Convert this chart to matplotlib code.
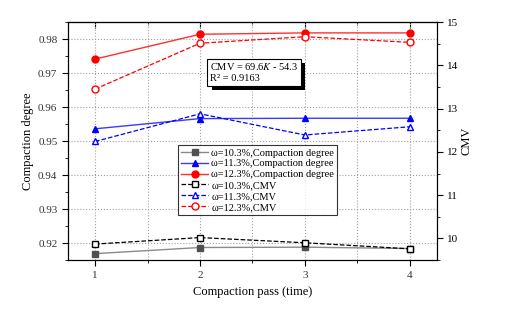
import matplotlib
matplotlib.use("Agg")
import matplotlib.pyplot as plt
from matplotlib.ticker import MultipleLocator, FormatStrFormatter
import matplotlib.patheffects as pe

plt.rcParams['font.family'] = ['Liberation Serif', 'DejaVu Serif']
plt.rcParams['mathtext.fontset'] = 'stix'

# 数据
passes = [1, 2, 3, 4]
cd_103 = [0.9169, 0.9187, 0.9188, 0.9184]
cd_113 = [0.9536, 0.9566, 0.9567, 0.9567]
cd_123 = [0.9741, 0.9814, 0.9818, 0.9818]
cmv_103 = [9.87, 10.02, 9.90, 9.76]
cmv_113 = [12.24, 12.88, 12.39, 12.58]
cmv_123 = [13.45, 14.51, 14.66, 14.53]

fig = plt.figure(figsize=(5.3, 3.1), dpi=100)
ax = fig.add_axes([0.128, 0.161, 0.6965, 0.768])
ax2 = ax.twinx()

# 压实度（左轴）
h1, = ax.plot(passes, cd_103, '-', color='#8a8a8a', lw=1, marker='s', ms=4.5,
              mfc='#505050', mec='#505050', label='ω=10.3%,Compaction degree')
h2, = ax.plot(passes, cd_113, '-', color='#3a3aff', lw=1, marker='^', ms=5,
              mfc='#0000ff', mec='#0000ff', label='ω=11.3%,Compaction degree')
h3, = ax.plot(passes, cd_123, '-', color='#ff3030', lw=1, marker='o', ms=5,
              mfc='#ff0000', mec='#ff0000', label='ω=12.3%,Compaction degree')

# CMV（右轴）
h4, = ax2.plot(passes, cmv_103, '--', color='black', lw=0.9, marker='s', ms=4.5,
               mfc='white', mec='black', label='ω=10.3%,CMV')
h5, = ax2.plot(passes, cmv_113, '--', color='#0000ff', lw=0.9, marker='^', ms=5,
               mfc='white', mec='#0000ff', label='ω=11.3%,CMV')
h6, = ax2.plot(passes, cmv_123, '--', color='#ff0000', lw=0.9, marker='o', ms=5,
               mfc='white', mec='#ff0000', label='ω=12.3%,CMV')

ax.set_xlim(0.74, 4.26)
ax.set_ylim(0.915, 0.985)
ax2.set_ylim(9.5, 15)

ax.xaxis.set_major_locator(MultipleLocator(1))
ax.xaxis.set_minor_locator(MultipleLocator(0.5))
ax.yaxis.set_major_locator(MultipleLocator(0.01))
ax.yaxis.set_minor_locator(MultipleLocator(0.005))
ax2.yaxis.set_major_locator(MultipleLocator(1))
ax2.yaxis.set_minor_locator(MultipleLocator(0.5))
ax.yaxis.set_major_formatter(FormatStrFormatter('%.2f'))

ax.grid(True, which='major', axis='y', linestyle=':', color='#a0a0a0', lw=0.8)
ax.grid(True, which='both', axis='x', linestyle=':', color='#a0a0a0', lw=0.8)

ax.tick_params(axis='both', which='both', direction='out', labelsize=8,
               labelcolor='#333333')
ax.tick_params(axis='both', which='major', length=4)
ax.tick_params(axis='both', which='minor', length=2.5)
ax2.tick_params(axis='y', which='both', direction='out', labelsize=8)
ax2.tick_params(axis='y', which='major', length=4)
ax2.tick_params(axis='y', which='minor', length=2.5)

# 顶部刻度（向内）
top = ax.secondary_xaxis('top')
top.xaxis.set_major_locator(MultipleLocator(1))
top.xaxis.set_minor_locator(MultipleLocator(0.5))
top.tick_params(which='both', direction='in', labeltop=False)
top.tick_params(which='major', length=4)
top.tick_params(which='minor', length=2.5)

ax.set_xlabel('Compaction pass (time)', fontsize=9, labelpad=5)
ax.set_ylabel('Compaction degree', fontsize=9, labelpad=3)
ax2.set_ylabel('CMV', fontsize=9, labelpad=1)

# 拟合公式文本框（带阴影）
t = ax2.text(0.385, 0.835, 'CMV = 69.6$\\it{K}$ - 54.3\nR² = 0.9163',
             transform=ax2.transAxes, fontsize=7.5, va='top', ha='left',
             linespacing=1.3,
             bbox=dict(boxstyle='square,pad=0.25', fc='white', ec='black', lw=0.8))
t.get_bbox_patch().set_path_effects([
    pe.SimplePatchShadow(offset=(3, -3), shadow_rgbFace='black', alpha=1.0),
    pe.Normal()])

leg = ax2.legend(handles=[h1, h2, h3, h4, h5, h6], loc='upper left',
                 bbox_to_anchor=(0.298, 0.483), borderaxespad=0, fontsize=7.5,
                 frameon=True, fancybox=False, edgecolor='black',
                 handlelength=2.6, handletextpad=0.3, labelspacing=0.15,
                 borderpad=0.3)
leg.get_frame().set_linewidth(0.8)

fig.savefig('out.png', dpi=100)
